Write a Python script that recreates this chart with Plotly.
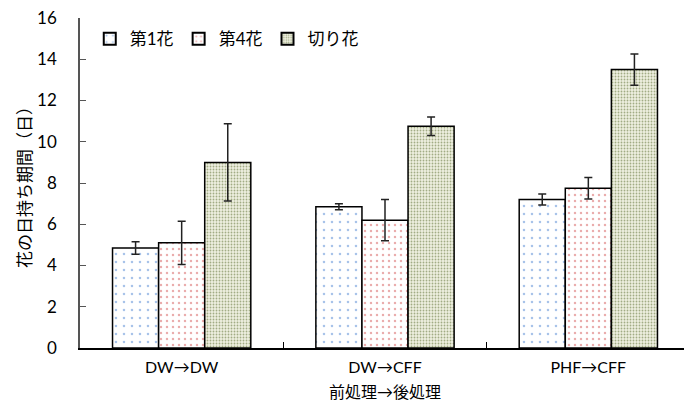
import plotly.graph_objects as go

categories = ["DW→DW", "DW→CFF", "PHF→CFF"]
series_names = ["第1花", "第4花", "切り花"]
first_flower = [4.85, 6.85, 7.2]
first_err = [0.3, 0.15, 0.27]
fourth_flower = [5.1, 6.2, 7.75]
fourth_err = [1.05, 1.0, 0.52]
cut_flower = [9.0, 10.75, 13.5]
cut_err = [1.87, 0.45, 0.76]
y_ticks = [0, 2, 4, 6, 8, 10, 12, 14, 16]

FONT = "Lato, 'Noto Sans CJK JP', sans-serif"

styles = [
    dict(fg="#4f86d2", bg="white", size=8, sol=0.08),
    dict(fg="#d45a5a", bg="white", size=6, sol=0.13),
    dict(fg="#55662a", bg="#eef0e0", size=3, sol=0.3),
]
values = [first_flower, fourth_flower, cut_flower]
errors = [first_err, fourth_err, cut_err]

fig = go.Figure()
for name, vals, errs, st in zip(series_names, values, errors, styles):
    fig.add_trace(go.Bar(
        x=categories, y=vals, name=name,
        marker=dict(color=st["bg"], line=dict(color="black", width=1.5),
                    pattern=dict(shape=".", fgcolor=st["fg"], bgcolor=st["bg"],
                                 size=st["size"], solidity=st["sol"], fillmode="overlay")),
        error_y=dict(type="data", array=errs, visible=True, color="#222222",
                     thickness=1.5, width=4),
    ))

fig.update_layout(
    width=684, height=397,
    margin=dict(l=72, r=2, t=10, b=57, autoexpand=False),
    paper_bgcolor="white", plot_bgcolor="white",
    barmode="group", bargap=0.32, bargroupgap=0,
    font=dict(family=FONT, size=16, color="black"),
    showlegend=True,
    legend=dict(orientation="h", x=0.016, y=0.99, xanchor="left", yanchor="top",
                bgcolor="rgba(0,0,0,0)", font=dict(size=17), itemwidth=30,
                tracegroupgap=0, itemsizing="constant"),
    xaxis=dict(
        automargin=False,
        showline=True, linecolor="black", linewidth=1.5,
        ticks="inside", ticklen=6, tickcolor="black", tickson="boundaries",
        tickfont=dict(size=16), ticklabelstandoff=4,
        title=dict(text="前処理→後処理", font=dict(size=16), standoff=12),
    ),
    yaxis=dict(
        automargin=False,
        range=[0, 16], tickvals=y_ticks, showgrid=False, zeroline=False,
        showline=True, linecolor="#555555", linewidth=1.5,
        ticks="inside", ticklen=6, tickcolor="#555555",
        tickfont=dict(size=17), ticklabelstandoff=18, ticklabeloverflow="allow",
        title=dict(text="花の日持ち期間（日）", font=dict(size=17), standoff=1),
    ),
)

fig.write_html("out.html")
